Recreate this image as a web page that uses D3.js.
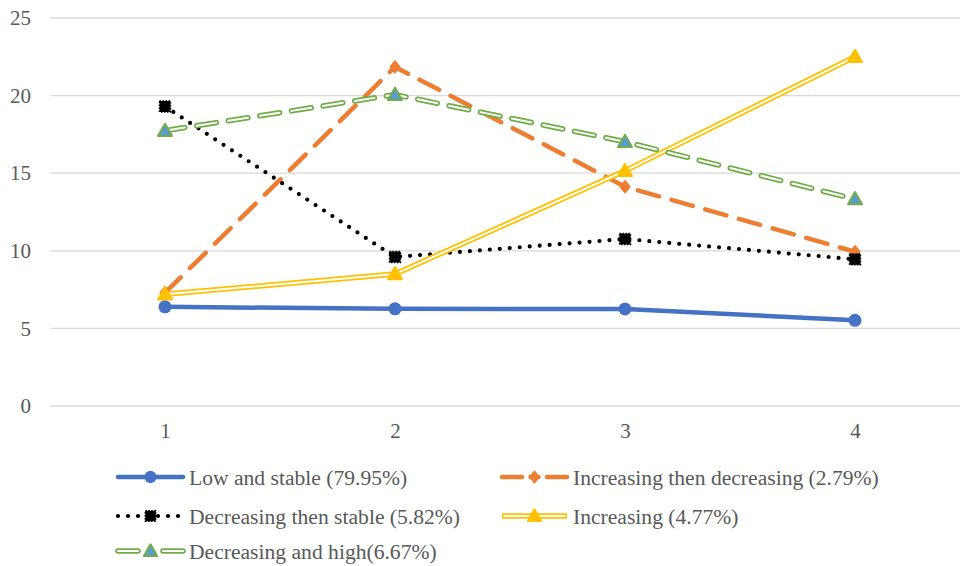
<!DOCTYPE html>
<html>
<head>
<meta charset="utf-8">
<script src="https://cdn.jsdelivr.net/npm/d3@7"></script>
<style>
  body { margin: 0; background: #fff; }
  svg { display: block; }
</style>
</head>
<body>
<svg id="chart" width="960" height="566"></svg>
<script>
// Trajectory groups over four time points
const periods = [1, 2, 3, 4];
const yTicks = [0, 5, 10, 15, 20, 25];

const lowStable = [6.39, 6.26, 6.25, 5.52];
const incThenDec = [7.3, 21.85, 14.13, 9.94];
const decThenStable = [19.3, 9.6, 10.76, 9.45];
const increasing = [7.2, 8.5, 15.15, 22.5];
const decHigh = [17.74, 20.06, 17.03, 13.33];

const seriesNames = [
  "Low and stable (79.95%)",
  "Increasing then decreasing (2.79%)",
  "Decreasing then stable (5.82%)",
  "Increasing (4.77%)",
  "Decreasing and high(6.67%)"
];

const FONT = "'Liberation Serif', 'Times New Roman', serif";

const svg = d3.select("#chart");
const W = 960;

const x = d3.scalePoint().domain(periods).range([50, 970]).padding(0.5);
const y = d3.scaleLinear().domain([0, 25]).range([406, 18]);

// horizontal gridlines
svg.append("g").selectAll("line").data(yTicks).join("line")
  .attr("x1", 50).attr("x2", W)
  .attr("y1", d => y(d)).attr("y2", d => y(d))
  .attr("stroke", "#d9d9d9").attr("stroke-width", 1.3);

function styleText(sel, size) {
  sel.attr("font-family", null).attr("font-size", null)
    .style("font-family", FONT).style("font-size", size + "px").style("fill", "#595959");
}

// y axis labels
const yAxis = d3.axisLeft(y).tickValues(yTicks).tickSize(0).tickPadding(0);
const gy = svg.append("g").attr("transform", "translate(31,0)").call(yAxis)
  .attr("font-family", null).attr("font-size", null);
gy.select(".domain").remove();
styleText(gy.selectAll("text"), 21);

// x axis labels
const xAxis = d3.axisBottom(x).tickSize(0).tickPadding(0);
const gx = svg.append("g").attr("transform", "translate(0,438)").call(xAxis)
  .attr("font-family", null).attr("font-size", null);
gx.select(".domain").remove();
gx.selectAll("text").attr("dy", 0);
styleText(gx.selectAll("text"), 21);

const line = d3.line().x((d, i) => x(periods[i])).y(d => y(d));

const styles = [
  { data: lowStable, draw: (g, path) => {
      g.append("path").attr("d", path).attr("fill", "none")
        .attr("stroke", "#4472C4").attr("stroke-width", 4.5).attr("stroke-linecap", "round");
    }, marker: "circle" },
  { data: incThenDec, draw: (g, path) => {
      g.append("path").attr("d", path).attr("fill", "none")
        .attr("stroke", "#ED7D31").attr("stroke-width", 4.5)
        .attr("stroke-dasharray", "22 13").attr("stroke-linecap", "round");
    }, marker: "diamond" },
  { data: decThenStable, draw: (g, path) => {
      g.append("path").attr("d", path).attr("fill", "none")
        .attr("stroke", "#000").attr("stroke-width", 4.2)
        .attr("stroke-dasharray", "0 10").attr("stroke-linecap", "round");
    }, marker: "square" },
  { data: increasing, draw: (g, path) => {
      g.append("path").attr("d", path).attr("fill", "none")
        .attr("stroke", "#FFC000").attr("stroke-width", 5.5);
      g.append("path").attr("d", path).attr("fill", "none")
        .attr("stroke", "#fff").attr("stroke-width", 2);
    }, marker: "triangleY" },
  { data: decHigh, draw: (g, path) => {
      g.append("path").attr("d", path).attr("fill", "none")
        .attr("stroke", "#70AD47").attr("stroke-width", 5.5)
        .attr("stroke-dasharray", "20 12").attr("stroke-linecap", "round");
      g.append("path").attr("d", path).attr("fill", "none")
        .attr("stroke", "#fff").attr("stroke-width", 2)
        .attr("stroke-dasharray", "20 12").attr("stroke-linecap", "round");
    }, marker: "triangleB" }
];

function drawMarker(g, kind, cx, cy, scale) {
  const s = scale || 1;
  if (kind === "circle") {
    g.append("circle").attr("cx", cx).attr("cy", cy).attr("r", 6.5 * s).attr("fill", "#4472C4");
  } else if (kind === "diamond") {
    const r = 6 * s;
    g.append("path").attr("d", `M${cx},${cy - r}L${cx + r * 0.8},${cy}L${cx},${cy + r}L${cx - r * 0.8},${cy}Z`)
      .attr("fill", "#ED7D31").attr("stroke", "#ED7D31").attr("stroke-width", 1.5).attr("stroke-linejoin", "round");
  } else if (kind === "square") {
    const h = 5.5 * s;
    g.append("rect").attr("x", cx - h).attr("y", cy - h).attr("width", 2 * h).attr("height", 2 * h)
      .attr("fill", "#000").attr("stroke", "#000").attr("stroke-width", 1.5).attr("stroke-dasharray", "1.5 1.5");
  } else if (kind === "triangleY" || kind === "triangleB") {
    const r = 7 * s;
    const fill = kind === "triangleY" ? "#FFC000" : "#5B9BD5";
    const stroke = kind === "triangleY" ? "#FFC000" : "#70AD47";
    g.append("path").attr("d", `M${cx},${cy - r}L${cx + r},${cy + r * 0.75}L${cx - r},${cy + r * 0.75}Z`)
      .attr("fill", fill).attr("stroke", stroke).attr("stroke-width", 2).attr("stroke-linejoin", "round");
  }
}

const plot = svg.append("g");
styles.forEach(st => {
  const g = plot.append("g");
  st.draw(g, line(st.data));
  st.data.forEach((v, i) => drawMarker(g, st.marker, x(periods[i]), y(v)));
});

// legend
const legendPos = [
  { lx: 118, ly: 477 }, { lx: 502, ly: 477 },
  { lx: 118, ly: 516 }, { lx: 502, ly: 516 },
  { lx: 118, ly: 551 }
];
const legendW = 65;
const legend = svg.append("g");
styles.forEach((st, i) => {
  const p = legendPos[i];
  const g = legend.append("g");
  const x0 = p.lx, x1 = p.lx + legendW, yy = p.ly;
  const mid = (x0 + x1) / 2;
  if (i === 0) {
    g.append("line").attr("x1", x0).attr("x2", x1).attr("y1", yy).attr("y2", yy)
      .attr("stroke", "#4472C4").attr("stroke-width", 4.5).attr("stroke-linecap", "round");
  } else if (i === 1) {
    [[x0, x0 + 20], [x1 - 20, x1]].forEach(([a, b]) =>
      g.append("line").attr("x1", a).attr("x2", b).attr("y1", yy).attr("y2", yy)
        .attr("stroke", "#ED7D31").attr("stroke-width", 4.5).attr("stroke-linecap", "round"));
    g.append("line").attr("x1", mid - 4).attr("x2", mid + 4).attr("y1", yy).attr("y2", yy)
      .attr("stroke", "#ED7D31").attr("stroke-width", 4.5).attr("stroke-linecap", "round");
  } else if (i === 2) {
    g.append("line").attr("x1", x0).attr("x2", x1).attr("y1", yy).attr("y2", yy)
      .attr("stroke", "#000").attr("stroke-width", 4.2)
      .attr("stroke-dasharray", "0 10").attr("stroke-linecap", "round");
  } else if (i === 3) {
    g.append("line").attr("x1", x0).attr("x2", x1).attr("y1", yy).attr("y2", yy)
      .attr("stroke", "#FFC000").attr("stroke-width", 5.5);
    g.append("line").attr("x1", x0 + 1.5).attr("x2", x1 - 1.5).attr("y1", yy).attr("y2", yy)
      .attr("stroke", "#fff").attr("stroke-width", 2);
  } else {
    [[x0, x0 + 20], [x1 - 20, x1]].forEach(([a, b]) => {
      g.append("line").attr("x1", a).attr("x2", b).attr("y1", yy).attr("y2", yy)
        .attr("stroke", "#70AD47").attr("stroke-width", 5.5).attr("stroke-linecap", "round");
      g.append("line").attr("x1", a).attr("x2", b).attr("y1", yy).attr("y2", yy)
        .attr("stroke", "#fff").attr("stroke-width", 2).attr("stroke-linecap", "round");
    });
  }
  drawMarker(g, st.marker, mid, yy, 0.95);
  const t = g.append("text").attr("x", x1 + 6).attr("y", yy).attr("dy", "0.35em")
    .text(seriesNames[i]);
  styleText(t, 21.6);
});
</script>
</body>
</html>
